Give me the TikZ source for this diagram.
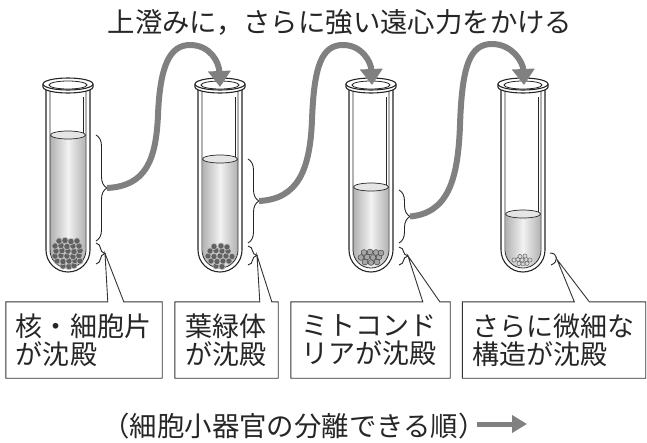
\documentclass[tikz,border=0pt]{standalone}
\usepackage{fontspec}
\newfontfamily\jp{Noto Sans CJK JP}
\usetikzlibrary{arrows.meta,decorations.pathreplacing,calc}

% one test tube: #1 centre x, #2 liquid level
\newcommand\testtube[2]{%
  \shade[left color=black!30,right color=black!30,middle color=black!5]
    ({#1-17.5},#2) -- ({#1-17.5},250) arc (180:0:17.5) -- ({#1+17.5},#2) -- cycle;
  \draw[glass,line width=0.7pt] ({#1+15},97) -- ({#1+15},#2);
  \draw[glass,line width=0.8pt] ({#1-18},91) -- ({#1-18},250) arc (180:0:18) -- ({#1+18},91);
  \draw[glass] ({#1-22},88) -- ({#1-22},250) arc (180:0:22) -- ({#1+22},88);
  \filldraw[glass,line width=0.7pt,fill=black!10] (#1,#2) ellipse (17.5 and 4);
  % lip of the tube
  \fill[white] ({#1-25},84) -- ({#1-25},87) arc (180:0:25 and 6) -- ({#1+25},84) -- cycle;
  \draw[glass] ({#1-25},84) -- ({#1-25},87) arc (180:0:25 and 6) -- ({#1+25},84);
  \filldraw[glass,fill=white] (#1,84) ellipse (25 and 6);
  \draw[glass,line width=0.8pt] (#1,85) ellipse (19 and 4);
}

\begin{document}
\begin{tikzpicture}[x=1pt,y=-1pt,
  glass/.style={line width=1.1pt,draw=black!85},
  flow/.style={line width=6pt,draw=black!50,-{Triangle[width=22pt,length=16pt]}},
  orderarrow/.style={line width=5pt,draw=black!50,-{Triangle[width=17pt,length=15pt]}},
  brc/.style={decorate,line width=0.9pt,draw=black!85},
  pelletA/.style={fill=black!62,draw=black!25,line width=0.6pt},
  pelletB/.style={fill=black!35,draw=black!75,line width=0.5pt},
  pelletC/.style={fill=black!15,draw=black!65,line width=0.45pt},
  lbl/.style={inner xsep=10pt,inner ysep=0pt,align=left,text=black!85,
    font=\jp\fontsize{27}{28.5}\selectfont},
  boxline/.style={line width=0.9pt,draw=black!80},
  heading/.style={text=black!85,font=\jp\fontsize{27.4}{30}\selectfont},
]
\useasboundingbox[fill=white] (0,0) rectangle (647,442);

% tubes
\testtube{68}{135}
\testtube{220}{159}
\testtube{371}{187}
\testtube{523}{214}

% sediment at the bottom of each tube
\foreach \dx/\y in {-5/266,1/266.5,6/265.5,
  -11/261,-5/261.5,1/261,7/260.5,12/261,
  -13/256,-7/255.5,-1/256,5/256.5,11/255.5,
  -12/251,-6/250.5,0/251,6/251.5,12/250.5,
  -13/246,-7/245.5,-1/246.5,5/246,11/246,
  -9/241,-3/240.5,3/241.5,9/241}
  \filldraw[pelletA] ({68+\dx},\y) circle (3.2);
\foreach \dx/\y in {-4/266,2/266.5,
  -9/261,-3/261.5,3/261,9/261,
  -12/256,-6/256.5,0/256,6/256,12/256.5,
  -10/251,-4/250.5,2/251,8/251,
  -6/246.5,1/246,7/247}
  \filldraw[pelletA] ({220+\dx},\y) circle (3.1);
\foreach \dx/\y in {-6/262,0/262.5,6/262,
  -10/257.5,-4/257,2/257.5,8/257,
  -7/252.5,-1/252,5/252.5,10/253}
  \filldraw[pelletB] ({371+\dx},\y) circle (2.9);
\foreach \dx/\y in {-4/263.5,0/264,4/263.5,
  -9/260,-5/259.5,-1/260,3/259.5,7/260,
  -3/256.5,2/256}
  \filldraw[pelletC] ({523+\dx},\y) circle (2.1);

% braces beside the tubes
\draw[brc,decoration={brace,amplitude=11pt}] (96,135) -- (96,241);
\draw[brc,decoration={brace,amplitude=9pt}] (96,243) -- (96,264);
\draw[brc,decoration={brace,amplitude=11pt}] (248,159) -- (248,243);
\draw[brc,decoration={brace,amplitude=9pt}] (248,246) -- (248,265);
\draw[brc,decoration={brace,amplitude=11pt}] (399,190) -- (399,243);
\draw[brc,decoration={brace,amplitude=9pt}] (399,247) -- (399,265);
\draw[brc] (550,253) .. controls (558,253) and (559,262) .. (551,265);

% points used by the connectors
\coordinate (brace1) at (107,188);
\coordinate (brace2) at (259,201);
\coordinate (brace3) at (410,216.5);
\coordinate (mouth2) at (220,87);
\coordinate (mouth3) at (372,85);
\coordinate (mouth4) at (524,85);
\coordinate (pt1) at (105,253.5);
\coordinate (pt2) at (257,255.5);
\coordinate (pt3) at (408,256);
\coordinate (pt4) at (557,259.5);

% supernatant transferred to the next tube
\draw[flow] (brace1) .. controls (146,186) and (156,160) .. (158,115)
  .. controls (160,65) and (170,45) .. (190,45)
  .. controls (210,45) and (219,62) .. (mouth2);
\draw[flow] (brace2) .. controls (298,199) and (310,170) .. (312,120)
  .. controls (314,65) and (322,45) .. (343,45)
  .. controls (362,45) and (371,62) .. (mouth3);
\draw[flow] (brace3) .. controls (448,213) and (458,180) .. (460,125)
  .. controls (462,65) and (470,44) .. (492,44)
  .. controls (512,44) and (523,62) .. (mouth4);

% callout boxes
\node[lbl,minimum width=156,minimum height=76,text width=136] (b1) at (84,340) {核・細胞片\\が沈殿};
\node[lbl,minimum width=103,minimum height=76,text width=83] (b2) at (226.5,340) {葉緑体\\が沈殿};
\node[lbl,minimum width=159,minimum height=76,text width=139] (b3) at (370.5,340) {ミトコンド\\リアが沈殿};
\node[lbl,minimum width=182,minimum height=76,text width=163] (b4) at (554,340) {さらに微細な\\構造が沈殿};

\draw[boxline] (b1.north west) -- ($(b1.north west)+(102,0)$) -- (pt1) -- ($(b1.north west)+(118,0)$)
  -- (b1.north east) -- (b1.south east) -- (b1.south west) -- cycle;
\draw[boxline] (b2.north west) -- ($(b2.north west)+(85,0)$) -- (pt2) -- ($(b2.north west)+(97,0)$)
  -- (b2.north east) -- (b2.south east) -- (b2.south west) -- cycle;
\draw[boxline] (b3.north west) -- ($(b3.north west)+(132,0)$) -- (pt3) -- ($(b3.north west)+(149,0)$)
  -- (b3.north east) -- (b3.south east) -- (b3.south west) -- cycle;
\draw[boxline] (b4.north west) -- ($(b4.north west)+(112,0)$) -- (pt4) -- ($(b4.north west)+(127,0)$)
  -- (b4.north east) -- (b4.south east) -- (b4.south west) -- cycle;

% headings
\node[heading] (title) at (340,22) {上澄みに，さらに強い遠心力をかける};
\node[heading] (order) at (294,426) {（細胞小器官の分離できる順）};
\coordinate (ostart) at ($(order.east)+(-12,-2)$);
\coordinate (oend) at (527,424);
\draw[orderarrow] (ostart) -- (oend);
\end{tikzpicture}
\end{document}
